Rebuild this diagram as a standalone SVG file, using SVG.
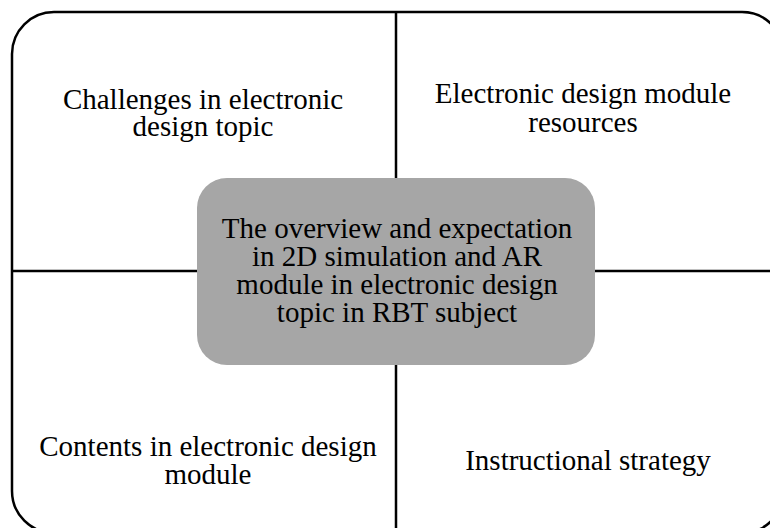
<svg xmlns="http://www.w3.org/2000/svg" width="770" height="528" viewBox="0 0 770 528">
<style>
.t{font-family:"Liberation Serif","Times New Roman",serif;font-size:29px;fill:#000;text-anchor:middle}
.ln{stroke:#000;stroke-width:2.5;fill:none}
</style>
<rect width="770" height="528" fill="#fff"/>
<g id="frame">
<rect x="12" y="12" width="772" height="521" rx="42" ry="42" fill="#fff" stroke="#000" stroke-width="2.5"/>
</g>
<g id="connectors">
<line class="ln" x1="396" y1="12" x2="396" y2="528"/>
<line class="ln" x1="12" y1="271" x2="770" y2="271"/>
</g>
<g id="center">
<rect x="197" y="178" width="398" height="187" rx="30" ry="30" fill="#a6a6a6"/>
<text class="t" x="397" y="238">The overview and expectation</text>
<text class="t" x="397" y="266">in 2D simulation and AR</text>
<text class="t" x="397" y="294">module in electronic design</text>
<text class="t" x="397" y="322">topic in RBT subject</text>
</g>
<g id="q1">
<text class="t" x="203" y="109">Challenges in electronic</text>
<text class="t" x="203" y="136">design topic</text>
</g>
<g id="q2">
<text class="t" x="583" y="103">Electronic design module</text>
<text class="t" x="583" y="132">resources</text>
</g>
<g id="q3">
<text class="t" x="208" y="456">Contents in electronic design</text>
<text class="t" x="208" y="484">module</text>
</g>
<g id="q4">
<text class="t" x="588" y="470">Instructional strategy</text>
</g>
</svg>
